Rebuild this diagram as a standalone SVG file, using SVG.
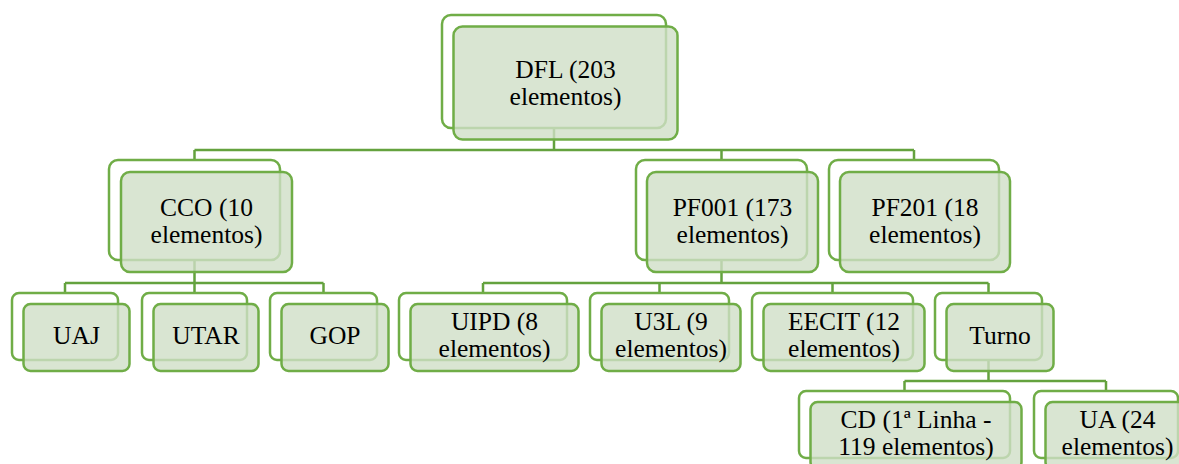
<svg xmlns="http://www.w3.org/2000/svg" width="1179" height="464" viewBox="0 0 1179 464">
<style>
.bk{fill:#ffffff;stroke:#70AD47;stroke-width:2.5}
.fr{fill:#D0DEC7;fill-opacity:0.8;stroke:#70AD47;stroke-width:2.5}
text{font-family:'Liberation Serif','Times New Roman',serif;font-size:25.5px;fill:#000000;text-anchor:middle}
.c{fill:none;stroke:#64A23E;stroke-width:2.5}
</style>
<rect width="1179" height="464" fill="#ffffff"/>
<g id="connectors">
<path class="c" d="M554,128V150M194.5,150H914M194.5,150V160M721.5,150V160M914,150V160"/>
<path class="c" d="M194.5,260V283M65,283H323.5M65,283V293M194.5,283V293M323.5,283V293"/>
<path class="c" d="M721.5,260V283M483,283H988.5M483,283V293M659.5,283V293M832.5,283V293M988.5,283V293"/>
<path class="c" d="M988.5,360V381M904.5,381H1106M904.5,381V391M1106,381V391"/>
</g>
<g id="DFL">
<rect class="bk" x="442" y="15" width="224" height="113" rx="9"/>
<rect class="fr" x="453.5" y="26.5" width="224" height="113" rx="9"/>
<text x="565.5" y="78">DFL (203<tspan x="565.5" dy="26.5">elementos)</tspan></text>
</g>
<g id="CCO">
<rect class="bk" x="109" y="160" width="171" height="100" rx="9"/>
<rect class="fr" x="121" y="172" width="171" height="100" rx="9"/>
<text x="206.5" y="216">CCO (10<tspan x="206.5" dy="26.5">elementos)</tspan></text>
</g>
<g id="PF001">
<rect class="bk" x="636" y="160" width="171" height="100" rx="9"/>
<rect class="fr" x="647" y="172" width="171" height="100" rx="9"/>
<text x="732.5" y="216">PF001 (173<tspan x="732.5" dy="26.5">elementos)</tspan></text>
</g>
<g id="PF201">
<rect class="bk" x="829" y="160" width="170" height="100" rx="9"/>
<rect class="fr" x="840" y="172" width="170" height="100" rx="9"/>
<text x="925" y="216">PF201 (18<tspan x="925" dy="26.5">elementos)</tspan></text>
</g>
<g id="UAJ">
<rect class="bk" x="12" y="293" width="106" height="67" rx="7"/>
<rect class="fr" x="23.5" y="304" width="106" height="67" rx="7"/>
<text x="76.5" y="344">UAJ</text>
</g>
<g id="UTAR">
<rect class="bk" x="142" y="293" width="105" height="67" rx="7"/>
<rect class="fr" x="153.5" y="304" width="105" height="67" rx="7"/>
<text x="206" y="344">UTAR</text>
</g>
<g id="GOP">
<rect class="bk" x="270" y="293" width="107" height="67" rx="7"/>
<rect class="fr" x="281.5" y="304" width="107" height="67" rx="7"/>
<text x="335" y="344">GOP</text>
</g>
<g id="UIPD">
<rect class="bk" x="399" y="293" width="168" height="67" rx="7"/>
<rect class="fr" x="410.5" y="304" width="168" height="67" rx="7"/>
<text x="494.5" y="330">UIPD (8<tspan x="494.5" dy="26.5">elementos)</tspan></text>
</g>
<g id="U3L">
<rect class="bk" x="590" y="293" width="139" height="67" rx="7"/>
<rect class="fr" x="601.5" y="304" width="139" height="67" rx="7"/>
<text x="671" y="330">U3L (9<tspan x="671" dy="26.5">elementos)</tspan></text>
</g>
<g id="EECIT">
<rect class="bk" x="752" y="293" width="161" height="67" rx="7"/>
<rect class="fr" x="763.5" y="304" width="161" height="67" rx="7"/>
<text x="844" y="330">EECIT (12<tspan x="844" dy="26.5">elementos)</tspan></text>
</g>
<g id="Turno">
<rect class="bk" x="935" y="293" width="107" height="67" rx="7"/>
<rect class="fr" x="946.5" y="304" width="107" height="67" rx="7"/>
<text x="1000" y="344">Turno</text>
</g>
<g id="CD">
<rect class="bk" x="799" y="391" width="211" height="67" rx="7"/>
<rect class="fr" x="810.5" y="402" width="211" height="67" rx="7"/>
<text x="916" y="428">CD (1ª Linha -<tspan x="916" dy="27">119 elementos)</tspan></text>
</g>
<g id="UA">
<rect class="bk" x="1034" y="391" width="144" height="67" rx="7"/>
<rect class="fr" x="1045.5" y="402" width="144" height="67" rx="7"/>
<text x="1117.5" y="428">UA (24<tspan x="1117.5" dy="27">elementos)</tspan></text>
</g>
</svg>
